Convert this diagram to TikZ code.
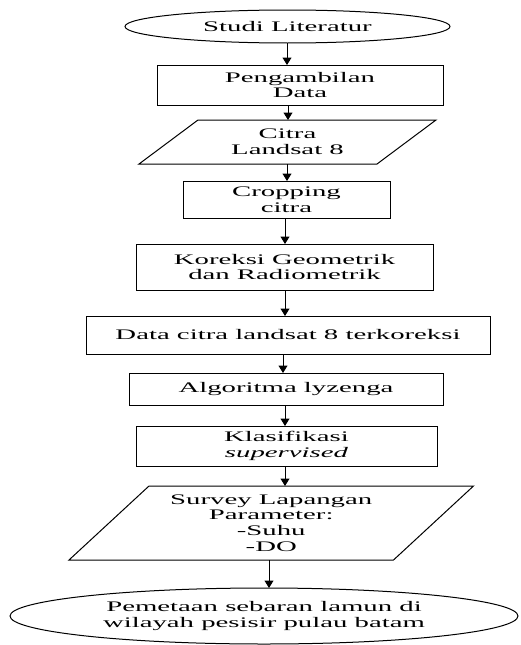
\documentclass[tikz,border=0pt]{standalone}
\usepackage{fontspec}
\setmainfont[FakeStretch=1.97]{Liberation Serif}
\usetikzlibrary{arrows.meta,shapes.geometric,calc}
\begin{document}
\begin{tikzpicture}[x=1pt,y=-1pt,
  every node/.style={font=\fontsize{14.6}{15.8}\selectfont, align=center, inner sep=0pt, outer sep=0pt},
  lin/.style={line width=1pt, draw=black},
  box/.style={lin, draw, rectangle},
  oval/.style={lin, draw, ellipse},
  arr/.style={line width=1pt, -{Triangle[length=7.5pt,width=9pt]}}
]
\useasboundingbox (0,0) rectangle (520,645);

% axis coordinates for the connectors
\coordinate (c287) at (287,0);
\coordinate (c288) at (288,0);
\coordinate (c285) at (285,0);
\coordinate (c283) at (283,0);
\coordinate (c269) at (269,0);

\node[oval, minimum width=325, minimum height=33] (e1) at (287.5,26.5) {Studi Literatur};
\node[box, minimum width=286, minimum height=40] (b1) at (300,85) {Pengambilan\\Data};
\node[minimum width=238, minimum height=44] (p1) at (287.5,142) {Citra\\Landsat 8};
\draw[lin] ($(p1.north west)+(29.5,0)$) -- ($(p1.north east)+(29.5,0)$)
  -- ($(p1.south east)+(-29.5,0)$) -- ($(p1.south west)+(-29.5,0)$) -- cycle;
\node[box, minimum width=207, minimum height=37] (b2) at (286.5,199.5) {Cropping\\citra};
\node[box, minimum width=297, minimum height=46] (b3) at (284.5,267) {Koreksi Geometrik\\dan Radiometrik};
\node[box, minimum width=404, minimum height=38] (b4) at (288,335) {Data citra landsat 8 terkoreksi};
\node[box, minimum width=314, minimum height=32] (b5) at (286,389) {Algoritma lyzenga};
\node[box, minimum width=301, minimum height=40] (b6) at (286.5,446) {Klasifikasi\\\textit{supervised}};
\node[minimum width=324.5, minimum height=74] (p2) at (271.25,523) {Survey Lapangan\\Parameter:\\-Suhu\\-DO};
\draw[lin] ($(p2.north west)+(40,0)$) -- ($(p2.north east)+(40,0)$)
  -- ($(p2.south east)+(-40,0)$) -- ($(p2.south west)+(-40,0)$) -- cycle;
\node[oval, minimum width=508, minimum height=56] (e2) at (264,616) {Pemetaan sebaran lamun di\\wilayah pesisir pulau batam};

\draw[arr] (e1.south -| c287) -- (b1.north -| c287);
\draw[arr] (b1.south -| c288) -- (p1.north -| c288);
\draw[arr] (p1.south -| c287) -- (b2.north -| c287);
\draw[arr] (b2.south -| c285) -- (b3.north -| c285);
\draw[arr] (b3.south -| c285) -- (b4.north -| c285);
\draw[arr] (b4.south -| c283) -- (b5.north -| c283);
\draw[arr] (b5.south -| c285) -- (b6.north -| c285);
\draw[arr] (b6.south -| c285) -- (p2.north -| c285);
\draw[arr] (p2.south -| c269) -- (e2.north -| c269);
\end{tikzpicture}
\end{document}
